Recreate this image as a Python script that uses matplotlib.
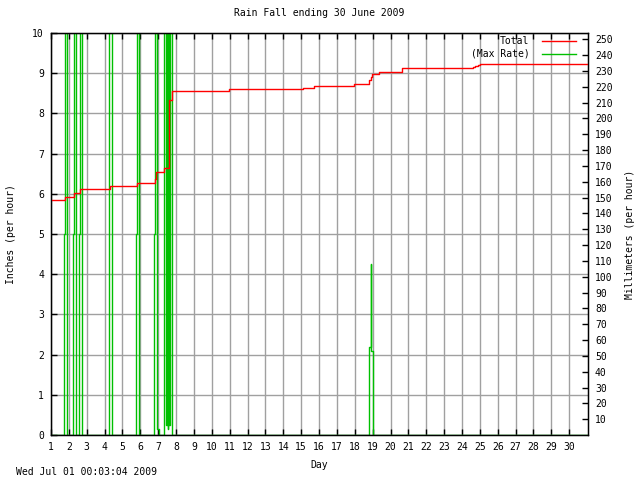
import matplotlib
matplotlib.use("Agg")
import matplotlib.pyplot as plt
import numpy as np

# rain total (inches), step values by day of month
total_day = [1.0, 1.78, 2.29, 2.62, 4.30, 5.80, 6.82, 6.86, 7.35, 7.62, 7.75,
             10.97, 15.09, 15.74, 17.97, 18.82, 18.88, 18.95, 19.38, 20.63,
             24.61, 24.75, 24.90, 25.02, 31.05]
total_in = [5.85, 5.91, 6.03, 6.11, 6.19, 6.26, 6.36, 6.53, 6.63, 8.33, 8.56,
            8.60, 8.62, 8.68, 8.73, 8.82, 8.90, 8.98, 9.02, 9.12,
            9.15, 9.18, 9.20, 9.22, 9.22]

# max rain rate (inches per hour), steps; values above 10 are off the chart
rate_day = [1.0, 1.75, 1.80, 1.90, 2.25, 2.30, 2.42, 2.57, 2.64, 2.75,
            4.27, 4.42, 5.76, 5.80, 5.91, 6.78, 6.82, 6.92, 7.02,
            7.33, 7.44, 7.48, 7.53, 7.57, 7.62, 7.66, 7.79,
            18.80, 18.89, 18.91, 19.01, 31.05]
rate_in = [0, 5, 12, 0, 5, 12, 0, 5, 12, 0,
           12, 0, 5, 12, 0, 5, 12, 0.15, 0,
           12, 0.25, 12, 0.15, 12, 0.25, 12, 0,
           2.2, 4.25, 2.1, 0, 0]

day_ticks = list(range(1, 31))
inch_ticks = list(range(0, 11))
mm_ticks = list(range(10, 260, 10))

font = "DejaVu Sans Mono"
plt.rcParams["font.family"] = font
plt.rcParams["font.size"] = 7

fig = plt.figure(figsize=(6.4, 4.8), dpi=100)
ax = fig.add_axes([51 / 640, 1 - 435 / 480, (588 - 51) / 640, (435 - 33) / 480])

ax.plot(total_day, total_in, color="#ff0000", lw=1.0, drawstyle="steps-post",
        label="Total", zorder=3)
ax.plot(rate_day, rate_in, color="#00c000", lw=1.0, drawstyle="steps-post",
        label="(Max Rate)", zorder=2)

ax.set_xlim(1, 31.05)
ax.set_ylim(0, 10)
ax.set_xticks(day_ticks)
ax.set_yticks(inch_ticks)
ax.grid(True, color="#a0a0a0", lw=1.0)
ax.set_axisbelow(True)
ax.tick_params(direction="in", length=4, top=True, right=True, width=1, pad=5)
for s in ax.spines.values():
    s.set_linewidth(1)

ax2 = ax.twinx()
ax2.set_ylim(0, 254)
ax2.set_yticks(mm_ticks)
ax2.tick_params(direction="in", length=4, width=1, pad=5)

ax.set_title("Rain Fall ending 30 June 2009", fontsize=7, pad=12)
ax.set_xlabel("Day", labelpad=6)
ax.set_ylabel("Inches (per hour)", labelpad=12)
ax2.set_ylabel("Millimeters (per hour)", labelpad=9)

ax.legend(loc="upper right", bbox_to_anchor=(576 / 640, 1 - 36 / 480),
          bbox_transform=fig.transFigure, frameon=False, markerfirst=False,
          handlelength=3.5, handletextpad=1.3, labelspacing=0.3,
          borderpad=0, borderaxespad=0)

fig.text(16 / 640, 1 - 472 / 480, "Wed Jul 01 00:03:04 2009", va="center", ha="left")

fig.savefig("out.png", dpi=100)
